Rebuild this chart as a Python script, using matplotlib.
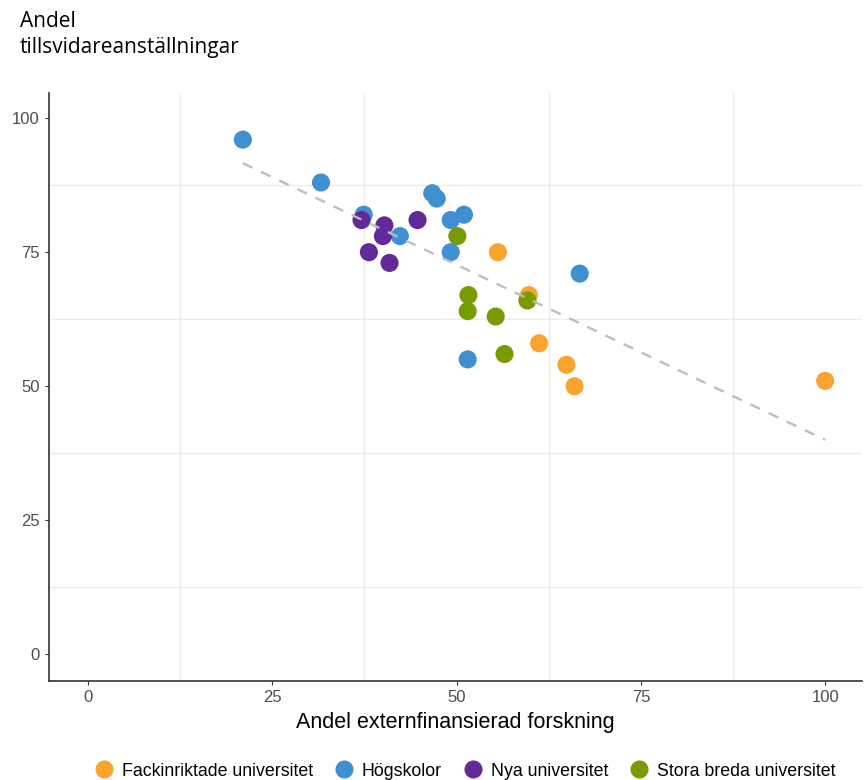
import numpy as np
import matplotlib
matplotlib.use("Agg")
import matplotlib.pyplot as plt
from matplotlib.lines import Line2D

plt.rcParams['font.family'] = ['Liberation Sans', 'DejaVu Sans']

groups = ["Fackinriktade universitet", "Högskolor", "Nya universitet", "Stora breda universitet"]
colors = ["#FAA32E", "#3F8FD1", "#612A98", "#789B02"]

fack_x = [55.6, 59.8, 61.2, 64.9, 66.0, 100.0]
fack_y = [75, 67, 58, 54, 50, 51]

hog_x = [21.0, 31.6, 37.4, 46.7, 47.3, 49.2, 51.0, 42.3, 49.2, 66.7, 51.5]
hog_y = [96, 88, 82, 86, 85, 81, 82, 78, 75, 71, 55]

nya_x = [37.1, 40.2, 40.0, 38.1, 40.9, 44.7]
nya_y = [81, 80, 78, 75, 73, 81]

stora_x = [50.1, 51.6, 51.5, 55.3, 59.6, 56.5]
stora_y = [78, 67, 64, 63, 66, 56]

xs = [fack_x, hog_x, nya_x, stora_x]
ys = [fack_y, hog_y, nya_y, stora_y]

fig = plt.figure(figsize=(8.65, 7.8), dpi=100)
ax = fig.add_axes([49/865, 1-681/780, (862-49)/865, (681-93)/780])

for gx, gy, c, g in zip(xs, ys, colors, groups):
    ax.scatter(gx, gy, s=170, color=c, edgecolors='none', zorder=3, label=g)

allx = np.concatenate([np.array(v, float) for v in xs])
ally = np.concatenate([np.array(v, float) for v in ys])
b, a = np.polyfit(allx, ally, 1)
lx = np.array([allx.min(), allx.max()])
ax.plot(lx, a + b * lx, color="#BDBDBD", lw=1.7, dashes=(4.5, 4), zorder=4)

ax.set_xlim(-5.3, 105)
ax.set_ylim(-5, 104.7)
ax.set_xticks([0, 25, 50, 75, 100])
ax.set_yticks([0, 25, 50, 75, 100])
ax.set_xticks([12.5, 37.5, 62.5, 87.5], minor=True)
ax.set_yticks([12.5, 37.5, 62.5, 87.5], minor=True)
ax.grid(which='minor', color="#EBEBEB", lw=1.0)
ax.grid(which='major', visible=False)
ax.tick_params(which='minor', length=0)
ax.tick_params(which='major', length=3, color="#333333", labelcolor="#4D4D4D", labelsize=12)
for s in ['top', 'right']:
    ax.spines[s].set_visible(False)
for s in ['left', 'bottom']:
    ax.spines[s].set_color("#333333")
    ax.spines[s].set_linewidth(1.2)

ax.set_xlabel("Andel externfinansierad forskning", fontsize=15.5, color="black", labelpad=5)

fig.text(20/865, 1-11/780, "Andel\ntillsvidareanställningar", fontsize=15,
         ha='left', va='top', family=['Open Sans', 'DejaVu Sans'], linespacing=1.3)

handles = [Line2D([], [], marker='o', ls='none', markersize=13, markerfacecolor=c,
                  markeredgecolor='none') for c in colors]
fig.legend(handles, groups, loc='center', bbox_to_anchor=(0.537, 1-771/780), ncol=4,
           frameon=False, fontsize=12.8, handletextpad=0.4, columnspacing=1.15,
           handlelength=1.2)

fig.savefig("out.png", dpi=100)
